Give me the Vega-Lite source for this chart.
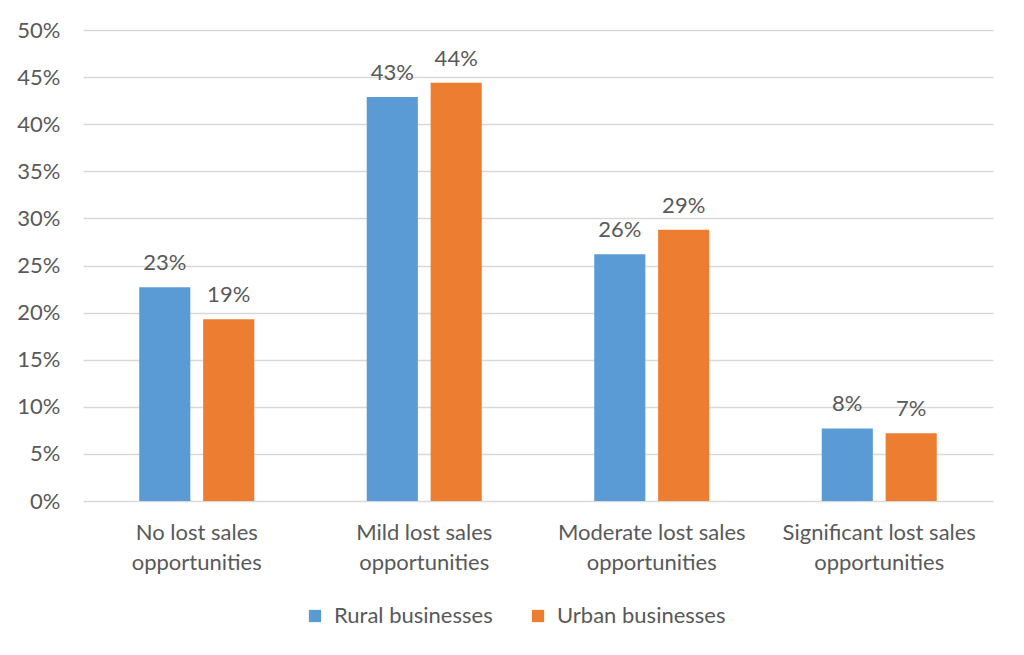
{
  "$schema": "https://vega.github.io/schema/vega-lite/v6.json",
  "width": 910,
  "height": 471,
  "autosize": {"type": "none"},
  "padding": {"left": 83, "top": 30, "right": 31, "bottom": 154},
  "background": "white",
  "config": {
    "font": "Lato",
    "view": {"stroke": null},
    "axis": {"labelFont": "Lato", "labelColor": "#595959", "labelFontSize": 22, "domain": false, "ticks": false, "title": null, "labelOverlap": false, "labelLimit": 0},
    "legend": {"labelFont": "Lato", "labelColor": "#595959", "labelFontSize": 22, "labelLimit": 0}
  },
  "data": {
    "values": [
      {"category": "No lost sales opportunities", "group": "Rural businesses", "value": 0.227},
      {"category": "No lost sales opportunities", "group": "Urban businesses", "value": 0.193},
      {"category": "Mild lost sales opportunities", "group": "Rural businesses", "value": 0.429},
      {"category": "Mild lost sales opportunities", "group": "Urban businesses", "value": 0.444},
      {"category": "Moderate lost sales opportunities", "group": "Rural businesses", "value": 0.262},
      {"category": "Moderate lost sales opportunities", "group": "Urban businesses", "value": 0.288},
      {"category": "Significant lost sales opportunities", "group": "Rural businesses", "value": 0.077},
      {"category": "Significant lost sales opportunities", "group": "Urban businesses", "value": 0.072}
    ]
  },
  "encoding": {
    "x": {
      "field": "category", "type": "nominal", "sort": null,
      "scale": {"paddingInner": 0, "paddingOuter": 0},
      "axis": {
        "labelAngle": 0, "labelPadding": 21, "labelLineHeight": 30, "labelBaseline": "top", "labelLimit": 0,
        "labelExpr": "[replace(datum.value, ' opportunities', ''), 'opportunities']",
        "grid": false
      }
    },
    "xOffset": {
      "field": "group", "type": "nominal",
      "scale": {"paddingInner": 0.2, "paddingOuter": 0.88}
    },
    "y": {
      "field": "value", "type": "quantitative",
      "scale": {"domain": [0, 0.5]},
      "axis": {"format": ".0%", "values": [0, 0.05, 0.1, 0.15, 0.2, 0.25, 0.3, 0.35, 0.4, 0.45, 0.5], "labelPadding": 23, "grid": true, "gridColor": "#D9D9D9", "gridWidth": 1.3}
    }
  },
  "layer": [
    {
      "mark": {"type": "bar"},
      "encoding": {
        "color": {
          "field": "group", "type": "nominal",
          "scale": {"domain": ["Rural businesses", "Urban businesses"], "range": ["#5B9BD5", "#ED7D31"]},
          "legend": {"title": null, "orient": "none", "direction": "horizontal", "legendX": 221, "legendY": 575, "symbolType": "square", "symbolSize": 150, "symbolStrokeWidth": 0, "columnPadding": 34, "labelOffset": 8, "labelLimit": 0}
        }
      }
    },
    {
      "mark": {"type": "text", "baseline": "bottom", "dy": -12, "fontSize": 22, "color": "#595959"},
      "encoding": {
        "text": {"field": "value", "type": "quantitative", "format": ".0%"}
      }
    }
  ]
}
